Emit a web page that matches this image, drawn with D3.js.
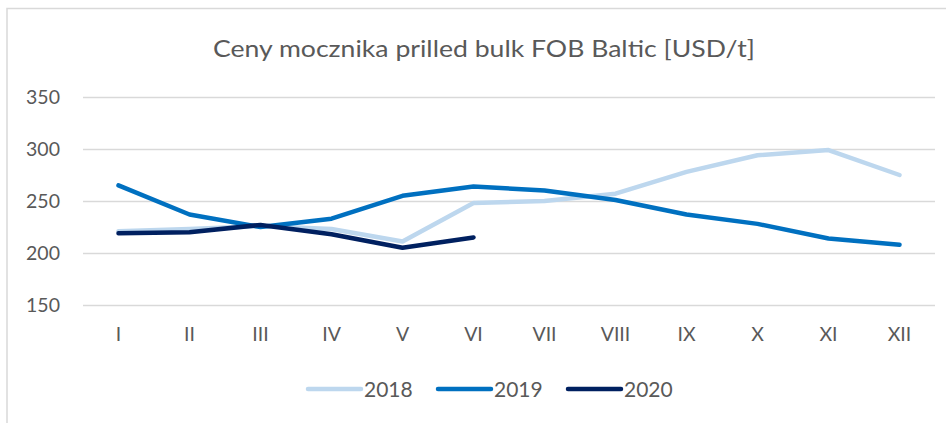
<!DOCTYPE html>
<html><head><meta charset="utf-8">
<script src="https://cdn.jsdelivr.net/npm/d3@7"></script>
<style>body{margin:0;background:#fff}svg{display:block}text{font-family:Lato,"Open Sans",sans-serif;fill:#595959}</style>
</head><body><svg id="c" width="946" height="423"></svg>
<script>
const title = "Ceny mocznika prilled bulk FOB Baltic [USD/t]";
const months = ["I","II","III","IV","V","VI","VII","VIII","IX","X","XI","XII"];
const yTicks = [150,200,250,300,350];
const years = ["2018","2019","2020"];
const colors = ["#BDD7EE","#0070C0","#002060"];
const v2018 = [221,223,226,223,211,248,250,257,278,294,299,275];
const v2019 = [265,237,225,233,255,264,260,251,237,228,214,208];
const v2020 = [219,220,227,218,205,215];
const seriesVals = [v2018, v2019, v2020];

const svg = d3.select("#c");
svg.append("rect").attr("x",7).attr("y",8.5).attr("width",960).attr("height",440)
  .attr("fill","none").attr("stroke","#D9D9D9").attr("stroke-width",1.5);

svg.append("text").attr("x",484).attr("y",57).attr("text-anchor","middle")
  .attr("font-size",24).attr("textLength",542).attr("lengthAdjust","spacingAndGlyphs").text(title);

const x = d3.scaleBand().domain(months).range([83,935]);
const y = d3.scaleLinear().domain([150,350]).range([305,97]);

const yAxis = svg.append("g").attr("transform","translate(83,0)")
  .call(d3.axisLeft(y).tickValues(yTicks).tickSize(-852).tickPadding(23));
yAxis.select(".domain").remove();
yAxis.selectAll("line").attr("stroke","#D9D9D9").attr("stroke-width",1.5);
yAxis.selectAll("text").attr("font-size",19.5).attr("font-family","Lato,sans-serif").attr("fill","#595959");

const xAxis = svg.append("g").attr("transform","translate(0,305)")
  .call(d3.axisBottom(x).tickSize(0).tickPadding(22));
xAxis.select(".domain").remove();
xAxis.selectAll("text").attr("font-size",19.5).attr("font-family","Lato,sans-serif").attr("fill","#595959");

const line = d3.line().x((d,i)=>x(months[i])+x.bandwidth()/2).y(d=>y(d));
seriesVals.forEach((vals,k)=>{
  svg.append("path").datum(vals).attr("d",line).attr("fill","none")
    .attr("stroke",colors[k]).attr("stroke-width",4.5).attr("stroke-linecap","round").attr("stroke-linejoin","round");
});

const legX = [306,436,566];
years.forEach((yr,k)=>{
  const g = svg.append("g").attr("transform",`translate(${legX[k]},389)`);
  g.append("line").attr("x1",2).attr("x2",55).attr("stroke",colors[k]).attr("stroke-width",4.5).attr("stroke-linecap","round");
  g.append("text").attr("x",58).attr("y",7.5).attr("font-size",21).text(yr);
});
</script></body></html>
